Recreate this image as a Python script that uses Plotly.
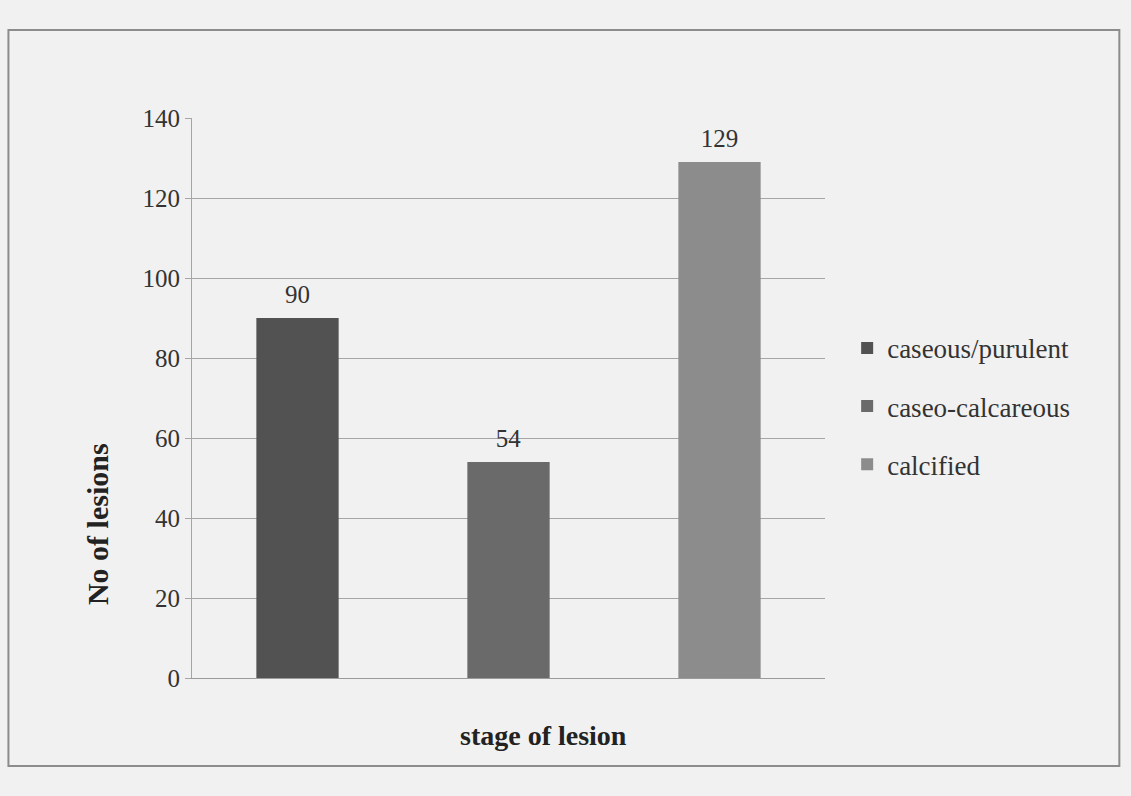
import plotly.graph_objects as go

stages = ["caseous/purulent", "caseo-calcareous", "calcified"]
lesions = [90, 54, 129]
colors = ["#525252", "#6a6a6a", "#8c8c8c"]
y_ticks = [0, 20, 40, 60, 80, 100, 120, 140]
x_title = "stage of lesion"
y_title = "No of lesions"

FONT = "Liberation Serif"

fig = go.Figure()
for i, (name, val, col) in enumerate(zip(stages, lesions, colors)):
    fig.add_trace(go.Bar(
        x=[x_title], y=[val], name=name,
        marker=dict(color=col, line=dict(width=0)),
        text=[str(val)], textposition="outside",
        texttemplate="<span style='font-size:25px'>%{text}</span><br> ",
        textfont=dict(family=FONT, size=8, color="#333333"),
        cliponaxis=False, legendgroup=f"g{i}",
    ))

fig.update_layout(
    width=1131, height=796,
    paper_bgcolor="#f1f1f1", plot_bgcolor="#f1f1f1",
    margin=dict(l=192, r=306, t=118, b=118),
    barmode="group", bargap=0.0, bargroupgap=0.61,
    font=dict(family=FONT, color="#333333"),
    showlegend=True,
    legend=dict(
        x=1.035, xanchor="left", y=0.485, yanchor="middle",
        font=dict(family=FONT, size=27, color="#333333"),
        bgcolor="rgba(0,0,0,0)", tracegroupgap=20,
        itemwidth=30,
    ),
    xaxis=dict(
        showticklabels=False, showgrid=False, zeroline=False,
        showline=True, linecolor="#9a9a9a", linewidth=1, ticks="",
    ),
    yaxis=dict(
        range=[0, 140], tickvals=y_ticks,
        showgrid=True, gridcolor="#a5a5a5", gridwidth=1,
        zeroline=False, showline=True, linecolor="#a5a5a5", linewidth=1,
        ticks="outside", ticklen=6, tickcolor="#a5a5a5",
        tickfont=dict(family=FONT, size=25, color="#333333"),
    ),
    annotations=[
        dict(text=f"<b>{x_title}</b>", xref="paper", yref="paper",
             x=0.555, y=-0.102, xanchor="center", yanchor="middle",
             showarrow=False,
             font=dict(family=FONT, size=28, color="#222222")),
        dict(text=f"<b>{y_title}</b>", xref="paper", yref="paper",
             x=-0.15, y=0.275, xanchor="center", yanchor="middle",
             textangle=-90, showarrow=False,
             font=dict(family=FONT, size=30, color="#222222")),
    ],
    shapes=[dict(type="rect", xref="paper", yref="paper",
                 x0=-0.29, x1=1.465, y0=-0.157, y1=1.157,
                 line=dict(color="#8c8c8c", width=2), fillcolor="rgba(0,0,0,0)",
                 layer="below")],
)

fig.write_html("out.html")
